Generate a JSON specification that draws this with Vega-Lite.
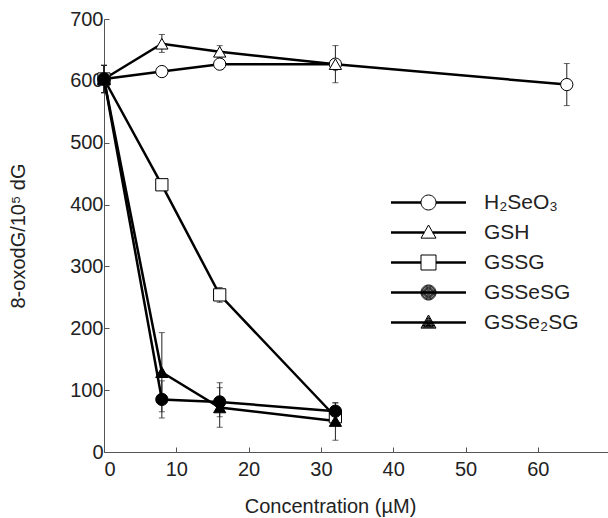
{
  "$schema": "https://vega.github.io/schema/vega-lite/v6.json",
  "autosize": "none",
  "padding": {"left": 104, "top": 19, "right": 0, "bottom": 66},
  "width": 504,
  "height": 433,
  "background": "white",
  "config": {
    "view": {"stroke": null},
    "font": "Liberation Sans",
    "axis": {"labelFont": "Liberation Sans", "titleFont": "Liberation Sans", "labelFontSize": 20, "titleFontSize": 20, "titleFontWeight": "normal", "labelColor": "#222", "titleColor": "#222", "domainColor": "#555", "tickColor": "#555", "grid": false},
    "legend": {"labelFont": "Liberation Sans", "labelFontSize": 21, "labelColor": "#222", "title": null, "orient": "none", "symbolSize": 225, "symbolStrokeWidth": 1, "symbolStrokeColor": "black", "symbolOpacity": 1, "symbolOffset": 30, "labelOffset": 45, "rowPadding": 8}
  },
  "data": {
    "values": [
      {"series": "GSSG", "conc": 0, "value": 603, "lo": 581, "hi": 625},
      {"series": "GSSG", "conc": 8, "value": 432, "lo": 427, "hi": 437},
      {"series": "GSSG", "conc": 16, "value": 254, "lo": 242, "hi": 266},
      {"series": "GSSG", "conc": 32, "value": 57, "lo": 45, "hi": 69},
      {"series": "H₂SeO₃", "conc": 0, "value": 603, "lo": 581, "hi": 625},
      {"series": "H₂SeO₃", "conc": 8, "value": 615, "lo": 607, "hi": 623},
      {"series": "H₂SeO₃", "conc": 16, "value": 627, "lo": 622, "hi": 632},
      {"series": "H₂SeO₃", "conc": 32, "value": 627, "lo": 622, "hi": 632},
      {"series": "H₂SeO₃", "conc": 64, "value": 594, "lo": 560, "hi": 628},
      {"series": "GSH", "conc": 0, "value": 603, "lo": 581, "hi": 625},
      {"series": "GSH", "conc": 8, "value": 660, "lo": 646, "hi": 675},
      {"series": "GSH", "conc": 16, "value": 647, "lo": 637, "hi": 657},
      {"series": "GSH", "conc": 32, "value": 627, "lo": 597, "hi": 657},
      {"series": "GSSeSG", "conc": 0, "value": 603, "lo": 581, "hi": 625},
      {"series": "GSSeSG", "conc": 8, "value": 85, "lo": 55, "hi": 115},
      {"series": "GSSeSG", "conc": 16, "value": 81, "lo": 57, "hi": 112},
      {"series": "GSSeSG", "conc": 32, "value": 66, "lo": 53, "hi": 79},
      {"series": "GSSe₂SG", "conc": 0, "value": 603, "lo": 581, "hi": 625},
      {"series": "GSSe₂SG", "conc": 8, "value": 129, "lo": 65, "hi": 193},
      {"series": "GSSe₂SG", "conc": 16, "value": 72, "lo": 40, "hi": 104},
      {"series": "GSSe₂SG", "conc": 32, "value": 50, "lo": 19, "hi": 80}
    ]
  },
  "encoding": {
    "x": {"field": "conc", "type": "quantitative",
      "scale": {"domain": [0, 69.7], "nice": false, "zero": false},
      "axis": {"values": [0, 10, 20, 30, 40, 50, 60], "tickSize": -5, "labelPadding": 12, "title": "Concentration (µM)", "titlePadding": 17, "titleX": 226}},
    "y": {"field": "value", "type": "quantitative",
      "scale": {"domain": [0, 700], "nice": false},
      "axis": {"values": [0, 100, 200, 300, 400, 500, 600, 700], "tickSize": -5, "labelPadding": 6, "title": "8-oxodG/10⁵ dG", "titlePadding": 41}}
  },
  "resolve": {"scale": {"shape": "independent"}, "legend": {"shape": "independent"}},
  "layer": [
    {"mark": {"type": "rule", "color": "#222", "strokeWidth": 1},
     "encoding": {"y": {"field": "lo", "type": "quantitative"}, "y2": {"field": "hi"}}},
    {"mark": {"type": "tick", "orient": "horizontal", "color": "#222", "size": 6, "thickness": 1},
     "encoding": {"y": {"field": "lo", "type": "quantitative"}}},
    {"mark": {"type": "tick", "orient": "horizontal", "color": "#222", "size": 6, "thickness": 1},
     "encoding": {"y": {"field": "hi", "type": "quantitative"}}},
    {"mark": {"type": "line", "color": "black", "strokeWidth": 2.5},
     "encoding": {"detail": {"field": "series", "type": "nominal"}}},
    {"mark": {"type": "point", "filled": false, "stroke": "black", "strokeWidth": 1, "size": 150, "opacity": 1},
     "encoding": {
       "shape": {"field": "series", "type": "nominal", "legend": null,
         "scale": {"domain": ["H₂SeO₃", "GSH", "GSSG", "GSSeSG", "GSSe₂SG"], "range": ["circle", "triangle-up", "square", "circle", "triangle-up"]}},
       "fill": {"field": "series", "type": "nominal", "legend": null,
         "scale": {"domain": ["H₂SeO₃", "GSH", "GSSG", "GSSeSG", "GSSe₂SG"], "range": ["white", "white", "white", "black", "black"]}}
     }},
    {"transform": [{"filter": {"field": "series", "oneOf": ["H₂SeO₃", "GSH", "GSSG"]}}],
     "mark": {"type": "point", "filled": false, "stroke": "black", "strokeWidth": 1, "size": 150, "opacity": 0},
     "encoding": {
       "shape": {"field": "series", "type": "nominal",
         "scale": {"domain": ["H₂SeO₃", "GSH", "GSSG"], "range": [
           "M-5,-0.1H-1 M-5,0H-1 M-5,0.1H-1 M1,-0.1H5 M1,0H5 M1,0.1H5 M1,0A1,1 0 1,1 -1,0A1,1 0 1,1 1,0Z",
           "M-5,-0.1H-0.57 M-5,0H-0.57 M-5,0.1H-0.57 M0.57,-0.1H5 M0.57,0H5 M0.57,0.1H5 M0,-1L1,0.75L-1,0.75Z",
           "M-5,-0.1H-1 M-5,0H-1 M-5,0.1H-1 M1,-0.1H5 M1,0H5 M1,0.1H5 M-1,-1H1V1H-1Z"]},
         "legend": {"legendX": 284, "legendY": 173}}
     }},
    {"transform": [{"filter": {"field": "series", "oneOf": ["GSSeSG", "GSSe₂SG"]}}],
     "mark": {"type": "point", "filled": false, "stroke": "black", "strokeWidth": 1, "size": 150, "opacity": 0},
     "encoding": {
       "shape": {"field": "series", "type": "nominal",
         "scale": {"domain": ["GSSeSG", "GSSe₂SG"], "range": [
           "M-5,-0.1H5 M-5,0H5 M-5,0.1H5 M1,0A1,1 0 1,1 -1,0A1,1 0 1,1 1,0Z M0.87,0A0.87,0.87 0 1,1 -0.87,0A0.87,0.87 0 1,1 0.87,0Z M0.73,0A0.73,0.73 0 1,1 -0.73,0A0.73,0.73 0 1,1 0.73,0Z M0.6,0A0.6,0.6 0 1,1 -0.6,0A0.6,0.6 0 1,1 0.6,0Z M0.47,0A0.47,0.47 0 1,1 -0.47,0A0.47,0.47 0 1,1 0.47,0Z M0.33,0A0.33,0.33 0 1,1 -0.33,0A0.33,0.33 0 1,1 0.33,0Z M0.2,0A0.2,0.2 0 1,1 -0.2,0A0.2,0.2 0 1,1 0.2,0Z M0.07,0A0.07,0.07 0 1,1 -0.07,0A0.07,0.07 0 1,1 0.07,0Z",
           "M-5,-0.1H5 M-5,0H5 M-5,0.1H5 M0,-1L1,0.75L-1,0.75Z M0,-0.7667L0.8,0.6333L-0.8,0.6333Z M0,-0.5333L0.6,0.5167L-0.6,0.5167Z M0,-0.3L0.4,0.4L-0.4,0.4Z M0,-0.0667L0.2,0.2833L-0.2,0.2833Z M0,0.1083L0.05,0.1958L-0.05,0.1958Z"]},
         "legend": {"legendX": 284, "legendY": 263}}
     }}
  ]
}
